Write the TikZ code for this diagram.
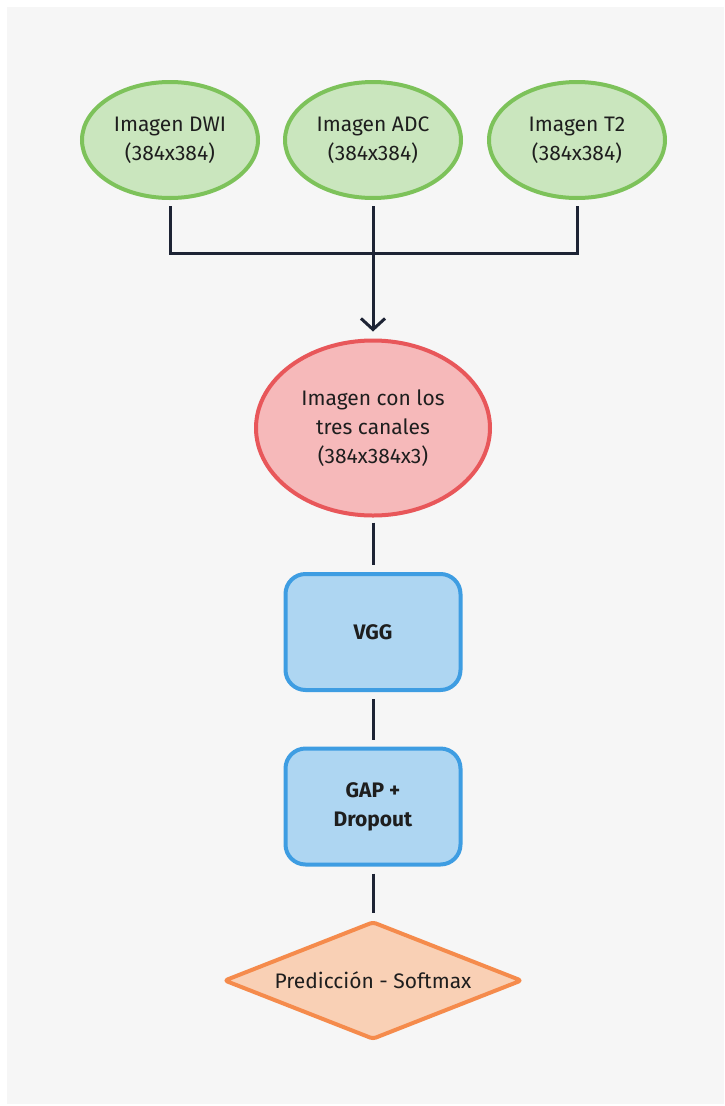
\documentclass[tikz,border=0pt]{standalone}
\usepackage{fontspec}
\setmainfont{Fira Sans}
\usetikzlibrary{shapes.geometric,arrows.meta}
\definecolor{bgc}{HTML}{F6F6F6}
\definecolor{gfill}{HTML}{CAE6BE}
\definecolor{gdraw}{HTML}{7DC25A}
\definecolor{rfill}{HTML}{F6B9BA}
\definecolor{rdraw}{HTML}{E8575A}
\definecolor{bfill}{HTML}{AED6F2}
\definecolor{bdraw}{HTML}{3E9DE2}
\definecolor{ofill}{HTML}{F9D0B5}
\definecolor{odraw}{HTML}{F58B4C}
\definecolor{linec}{HTML}{1D2334}
\definecolor{txt}{HTML}{1E1E1E}
\tikzset{
  every node/.style={text=txt, font=\fontsize{21}{29}\selectfont, align=center},
  inell/.style={ellipse, draw=gdraw, fill=gfill, line width=4pt, minimum width=176pt, minimum height=116pt, inner sep=0pt},
  redell/.style={ellipse, draw=rdraw, fill=rfill, line width=4pt, minimum width=234pt, minimum height=175pt, inner sep=0pt},
  procbox/.style={rectangle, rounded corners=20pt, draw=bdraw, fill=bfill, line width=4pt, minimum width=175pt, minimum height=116pt, inner sep=0pt, font=\fontsize{21}{29}\selectfont\bfseries},
  outdia/.style={diamond, aspect=2.5, draw=odraw, fill=ofill, line width=4pt, line join=round, rounded corners=3pt, minimum width=298pt, minimum height=118pt, inner sep=0pt},
  conn/.style={draw=linec, line width=3pt},
}
\begin{document}
\begin{tikzpicture}[x=1pt,y=-1pt]
\fill[white] (0,0) rectangle (724,1106);
\fill[bgc] (7,7) rectangle (724,1104);
\node[inell] (dwi) at (170,140) {Imagen DWI\\(384x384)};
\node[inell] (adc) at (373,140) {Imagen ADC\\(384x384)};
\node[inell] (t2) at (577,140) {Imagen T2\\(384x384)};
\node[redell] (img) at (373,428) {Imagen con los\\tres canales\\(384x384x3)};
\node[procbox] (vgg) at (373,632) {VGG};
\node[procbox] (gap) at (373,806.5) {GAP +\\Dropout};
\node[outdia] (pred) at (373,980.5) {Predicción - Softmax};
\coordinate (j) at (373,253);
\draw[conn] ([yshift=-6pt]dwi.south) |- (j);
\draw[conn] ([yshift=-6pt]t2.south) |- (j);
\draw[conn, -{Straight Barb[length=11pt,width=24pt,line width=3pt]}] ([yshift=-6pt]adc.south) -- ([yshift=7pt]img.north);
\draw[conn] ([yshift=-5pt]img.south) -- ([yshift=7pt]vgg.north);
\draw[conn] ([yshift=-7pt]vgg.south) -- ([yshift=7pt]gap.north);
\draw[conn] ([yshift=-7pt]gap.south) -- ([yshift=7pt]pred.north);
\end{tikzpicture}
\end{document}
